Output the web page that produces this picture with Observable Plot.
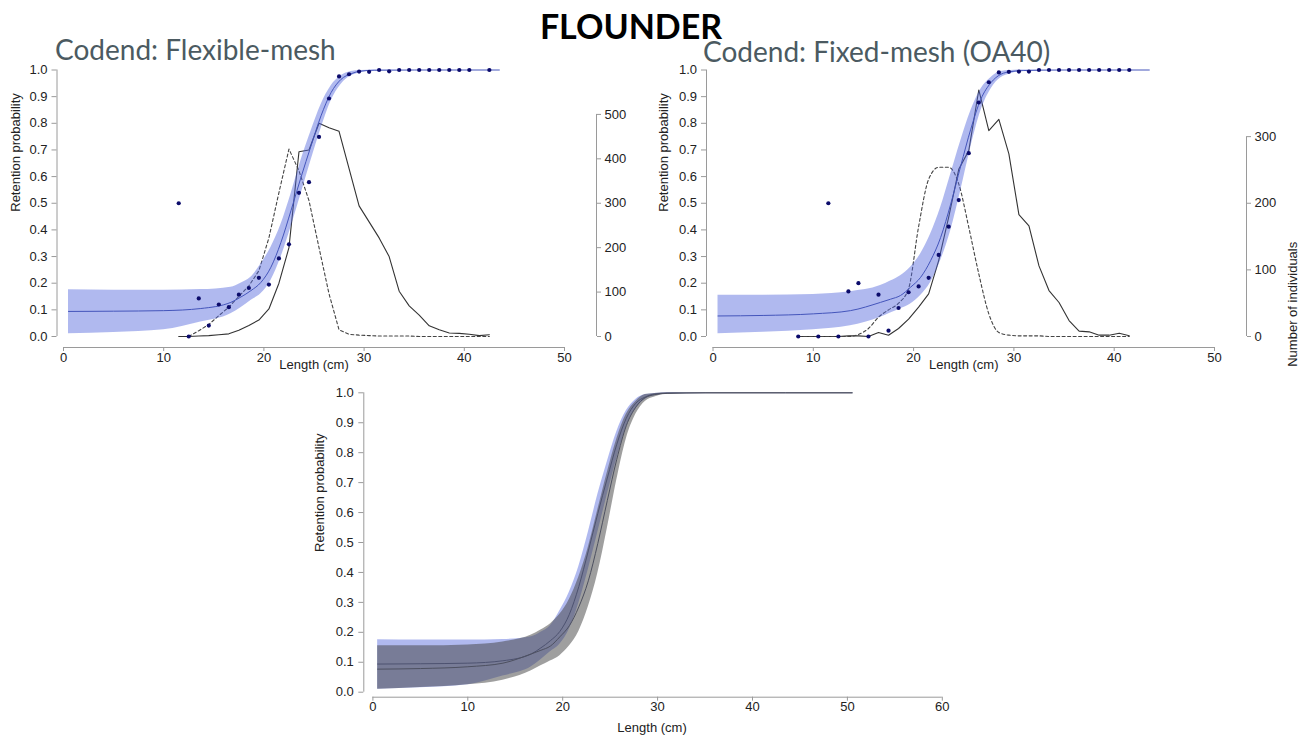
<!DOCTYPE html>
<html><head><meta charset="utf-8">
<script src="https://cdn.jsdelivr.net/npm/d3@7"></script>
<script src="https://cdn.jsdelivr.net/npm/@observablehq/plot@0.6"></script>
<style>
html,body{margin:0;padding:0;background:#fff}
body{width:1309px;height:737px;position:relative;overflow:hidden;font-family:"Liberation Sans",Arial,sans-serif}
.abs{position:absolute;white-space:nowrap;line-height:1}
#title{left:431px;width:400px;top:9px;text-align:center;font-family:Lato,"Open Sans",sans-serif;font-weight:700;font-size:34px;color:#000}
.sub{font-family:Lato,"Open Sans",sans-serif;font-size:28px;color:#4b5a61}
#sub1{left:55px;top:35px}
#sub2{left:703px;top:37px}
#p1{left:0;top:60px}
#p2{left:655px;top:60px}
#p3{left:300px;top:380px}
</style></head><body>
<div id="title" class="abs">FLOUNDER</div>
<div id="sub1" class="abs sub">Codend: Flexible-mesh</div>
<div id="sub2" class="abs sub">Codend: Fixed-mesh (OA40)</div>
<div id="p1" class="abs"></div>
<div id="p2" class="abs"></div>
<div id="p3" class="abs"></div>
<script>
// ---------- data ----------
const xTicksTop = [0, 10, 20, 30, 40, 50];
const xTicksBottom = [0, 10, 20, 30, 40, 50, 60];
const yTicks = [0, 0.1, 0.2, 0.3, 0.4, 0.5, 0.6, 0.7, 0.8, 0.9, 1.0];
const countTicks1 = [0, 100, 200, 300, 400, 500];
const countTicks2 = [0, 100, 200, 300];
const countAtTop1 = 600;   // right-axis value level with probability 1.0 (flexible)
const countAtTop2 = 400;   // right-axis value level with probability 1.0 (fixed)
const topCurveEnd = 43.5;

// Flexible-mesh: observed proportions
const ptLen1 = [11.5,12.5,13.5,14.5,15.5,16.5,17.5,18.5,19.5,20.5,21.5,22.5,23.5,24.5,25.5,26.5,27.5,28.5,29.5,30.5,31.5,32.5,33.5,34.5,35.5,36.5,37.5,38.5,39.5,40.5,42.5];
const ptProp1 = [0.50,0.00,0.143,0.041,0.12,0.11,0.157,0.182,0.22,0.195,0.293,0.346,0.539,0.579,0.749,0.893,0.976,0.984,0.994,0.993,1.0,0.995,1,1,1,1,1,1,1,1,1];
// Flexible-mesh: numbers of individuals
const lenCount1 = [11.5,12.5,13.5,14.5,15.5,16.5,17.5,18.5,19.5,20.5,21.5,22.5,23.5,24.5,25.5,26.5,27.5,28.5,29.5,30.5,31.5,32.5,33.5,34.5,35.5,36.5,37.5,38.5,39.5,40.5,41.5,42.5];
const solid1 = [0,0,1,2,4,6,14,25,37,62,120,200,416,420,480,470,462,378,294,258,222,180,102,69,48,24,15,8,7,5,2,4];
const dashed1 = [null,0,13,27,47,66,90,114,148,222,324,422,373,306,200,96,15,5,3,2,1,1,1,1,0,0,0,0,0,0,0,0];

// Fixed-mesh (OA40): observed proportions
const ptLen2 = [8.5,10.5,11.5,12.5,13.5,14.5,15.5,16.5,17.5,18.5,19.5,20.5,21.5,22.5,23.5,24.5,25.5,26.5,27.5,28.5,29.5,30.5,31.5,32.5,33.5,34.5,35.5,36.5,37.5,38.5,39.5,40.5,41.5];
const ptProp2 = [0,0,0.50,0,0.169,0.20,0,0.157,0.022,0.107,0.166,0.188,0.22,0.306,0.412,0.512,0.688,0.878,0.954,0.991,0.993,0.994,0.994,1,1,1,1,1,1,1,1,1,1];
// Fixed-mesh: numbers of individuals
const lenCount2 = [8.5,9.5,10.5,11.5,12.5,13.5,14.5,15.5,16.5,17.5,18.5,19.5,20.5,21.5,22.5,23.5,24.5,25.5,26.5,27.5,28.5,29.5,30.5,31.5,32.5,33.5,34.5,35.5,36.5,37.5,38.5,39.5,40.5,41.5];
const solid2 = [0,0,0,0,0,1,1,0,6,2,12,26,44,64,114,179,251,279,370,309,326,274,183,166,106,69,51,24,8,7,2,2,5,1];
const dashed2 = [0,0,0,0,0,0,3,12,29,40,50,72,165,236,254,254,229,164,94,34,6,2,1,1,1,0,0,0,0,0,0,0,0,0];

// Fitted retention curves with confidence bands
const curveLen = [0.5,5,10,13.7,16.7,17.7,18.7,19.7,20.7,21.7,22.7,23.7,24.7,25.7,26.7,27.7,28.7,29.7,31,35,43.5,50.5];
const mid1 = [0.094,0.095,0.097,0.105,0.128,0.148,0.172,0.203,0.26,0.353,0.472,0.597,0.715,0.828,0.915,0.965,0.986,0.996,0.999,1,1,1];
const lo1  = [0.010,0.015,0.025,0.054,0.085,0.108,0.135,0.16,0.21,0.297,0.41,0.534,0.66,0.78,0.884,0.946,0.978,0.99,0.997,1,1,1];
const hi1  = [0.175,0.174,0.174,0.176,0.185,0.20,0.222,0.272,0.334,0.42,0.534,0.66,0.77,0.87,0.94,0.978,0.994,0.998,1,1,1,1];
const mid2 = [0.077,0.079,0.085,0.097,0.128,0.14,0.154,0.185,0.222,0.285,0.372,0.497,0.64,0.778,0.89,0.952,0.984,0.994,0.998,1,1,1];
const lo2  = [0.01,0.016,0.025,0.04,0.072,0.088,0.104,0.122,0.154,0.203,0.285,0.397,0.547,0.709,0.846,0.928,0.971,0.986,0.996,1,1,1];
const hi2  = [0.155,0.155,0.158,0.168,0.191,0.208,0.228,0.26,0.31,0.385,0.484,0.609,0.734,0.846,0.928,0.971,0.994,0.998,1,1,1,1];

// ---------- build tables ----------
const curve1 = curveLen.map((L, i) => ({L, mid: mid1[i], lo: lo1[i], hi: hi1[i]}));
const curve2 = curveLen.map((L, i) => ({L, mid: mid2[i], lo: lo2[i], hi: hi2[i]}));
const pts1 = ptLen1.map((L, i) => ({L, p: ptProp1[i]}));
const pts2 = ptLen2.map((L, i) => ({L, p: ptProp2[i]}));
const cnt1 = lenCount1.map((L, i) => ({L, s: solid1[i], d: dashed1[i]}));
const cnt2 = lenCount2.map((L, i) => ({L, s: solid2[i], d: dashed2[i]}));

// ---------- styles ----------
const axisCol = "#9a9a9a";
const textCol = "#222";
const bandBlue = "#5064dc";
const bandGray = "#404040";
const lineBlue = "#4455bb";
const dotCol = "#0b0b6b";
const fontStyle = {fontFamily: '"Liberation Sans", Arial, sans-serif', fontSize: "13px", color: textCol, background: "transparent", overflow: "visible"};

function topPanel(o) {
  const curve = o.curve.filter(d => d.L <= topCurveEnd);
  return Plot.plot({
    width: o.width, height: 320,
    marginLeft: o.ml, marginRight: o.mr, marginTop: 9.5, marginBottom: 33,
    insetLeft: 6.5, insetRight: 32, insetTop: 0, insetBottom: 11,
    x: {domain: [xTicksTop[0], xTicksTop[xTicksTop.length - 1]]},
    y: {domain: [yTicks[0], yTicks[yTicks.length - 1]]},
    style: fontStyle,
    marks: [
      Plot.ruleY([yTicks[0]], {x1: xTicksTop[0], x2: xTicksTop[xTicksTop.length - 1], dy: 11, stroke: axisCol}),
      Plot.ruleX([xTicksTop[0]], {y1: yTicks[0], y2: yTicks[yTicks.length - 1], dx: -6.5, stroke: axisCol}),
      Plot.ruleX([xTicksTop[xTicksTop.length - 1]], {y1: 0, y2: o.countTicks[o.countTicks.length - 1] / o.countTop, dx: 32, stroke: axisCol}),
      Plot.axisX(xTicksTop, {tickSize: 4, tickPadding: 1, stroke: axisCol, fill: textCol, label: null}),
      Plot.axisY(yTicks, {tickSize: 5, tickPadding: 4.5, stroke: axisCol, fill: textCol, tickFormat: ".1f", label: null}),
      Plot.axisY(o.countTicks.map(c => c / o.countTop), {anchor: "right", tickSize: 4, tickPadding: 4, stroke: axisCol, fill: textCol, tickFormat: d => Math.round(d * o.countTop), label: null}),
      Plot.line(o.cnt, {x: "L", y: d => d.s / o.countTop, stroke: "#333", strokeWidth: 1.1}),
      Plot.line(o.cnt, {x: "L", y: d => d.d == null ? NaN : d.d / o.countTop, stroke: "#444", strokeWidth: 1.1, strokeDasharray: "3,2.5", curve: o.dashedCurve}),
      Plot.areaY(curve, {x: "L", y1: "lo", y2: "hi", fill: bandBlue, fillOpacity: 0.45, curve: "monotone-x"}),
      Plot.line(curve, {x: "L", y: "mid", stroke: lineBlue, strokeWidth: 1, curve: "monotone-x"}),
      Plot.dot(o.pts, {x: "L", y: "p", r: 2.1, fill: dotCol, stroke: null}),
      Plot.text(["Retention probability"], {frameAnchor: "left", rotate: -90, dx: o.ylabDx, dy: 3, fill: textCol, fontSize: 13}),
      Plot.text(["Length (cm)"], {frameAnchor: "bottom", dx: -12.7, dy: 21, fill: textCol, fontSize: 13}),
      ...(o.rightLabel ? [Plot.text([o.rightLabel], {frameAnchor: "right", rotate: -90, dx: 46, dy: 33, fill: textCol, fontSize: 13})] : [])
    ]
  });
}

document.getElementById("p1").append(topPanel({
  width: 650, ml: 56.5, mr: 54, curve: curve1, pts: pts1, cnt: cnt1, dashedCurve: "linear",
  countTicks: countTicks1, countTop: countAtTop1, ylabDx: -41.5, rightLabel: null
}));
document.getElementById("p2").append(topPanel({
  width: 654, ml: 51, mr: 63, curve: curve2, pts: pts2, cnt: cnt2, dashedCurve: "monotone-x",
  countTicks: countTicks2, countTop: countAtTop2, ylabDx: -43, rightLabel: "Number of individuals"
}));

document.getElementById("p3").append(Plot.plot({
  width: 660, height: 357,
  marginLeft: 63.3, marginRight: 18.2, marginTop: 12.3, marginBottom: 40.3,
  insetLeft: 9.1, insetRight: 0, insetTop: 0, insetBottom: 5,
  x: {domain: [xTicksBottom[0], xTicksBottom[xTicksBottom.length - 1]]},
  y: {domain: [yTicks[0], yTicks[yTicks.length - 1]]},
  style: fontStyle,
  marks: [
    Plot.ruleY([yTicks[0]], {x1: xTicksBottom[0], x2: xTicksBottom[xTicksBottom.length - 1], dy: 5, stroke: axisCol}),
    Plot.ruleX([xTicksBottom[0]], {y1: yTicks[0], y2: yTicks[yTicks.length - 1], dx: -9.1, stroke: axisCol}),
    Plot.axisX(xTicksBottom, {tickSize: 4, tickPadding: 1, stroke: axisCol, fill: textCol, label: null}),
    Plot.axisY(yTicks, {tickSize: 5, tickPadding: 5, stroke: axisCol, fill: textCol, tickFormat: ".1f", label: null}),
    Plot.areaY(curve1, {x: "L", y1: "lo", y2: "hi", fill: bandBlue, fillOpacity: 0.45, curve: "monotone-x"}),
    Plot.areaY(curve2, {x: "L", y1: "lo", y2: "hi", fill: bandGray, fillOpacity: 0.5, curve: "monotone-x"}),
    Plot.line(curve1, {x: "L", y: "mid", stroke: "#4d5270", strokeWidth: 1, curve: "monotone-x"}),
    Plot.line(curve2, {x: "L", y: "mid", stroke: "#4d5060", strokeWidth: 1, curve: "monotone-x"}),
    Plot.text(["Retention probability"], {frameAnchor: "left", rotate: -90, dx: -44.3, dy: 7, fill: textCol, fontSize: 13}),
    Plot.text(["Length (cm)"], {frameAnchor: "bottom", dx: -1, dy: 35, fill: textCol, fontSize: 13})
  ]
}));
</script>
</body></html>
